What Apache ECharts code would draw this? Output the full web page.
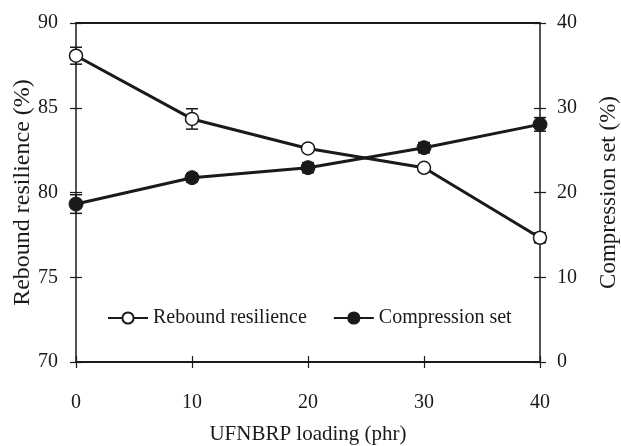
<!DOCTYPE html>
<html><head><meta charset="utf-8">
<script src="https://cdn.jsdelivr.net/npm/echarts@6/dist/echarts.min.js"></script>
<style>html,body{margin:0;padding:0;background:#fff}#c{width:621px;height:446px}</style>
</head><body><div id="c"></div>
<script>
const loading = [0, 10, 20, 30, 40];
const reboundResilience = [88.07, 84.34, 82.6, 81.46, 77.33];
const reboundErr = [0.5, 0.6, 0.2, 0.15, 0.3];
const compressionSet = [18.64, 21.75, 22.93, 25.29, 28.04];
const compressionErr = [1.1, 0.5, 0.6, 0.6, 0.8];
const leftTicks = [70, 75, 80, 85, 90];
const rightTicks = [0, 10, 20, 30, 40];

const FONT = 'Liberation Serif';
const INK = '#1a1a1a';

function pairs(xs, ys) { return xs.map((x, i) => [x, ys[i]]); }
function errData(xs, ys, es) { return xs.map((x, i) => [x, ys[i] - es[i], ys[i] + es[i]]); }
function errRender(params, api) {
  const x = api.value(0);
  const lo = api.coord([x, api.value(1)]);
  const hi = api.coord([x, api.value(2)]);
  const w = 6;
  const st = { stroke: INK, lineWidth: 1.5 };
  return { type: 'group', children: [
    { type: 'line', shape: { x1: lo[0], y1: lo[1], x2: hi[0], y2: hi[1] }, style: st },
    { type: 'line', shape: { x1: lo[0] - w, y1: lo[1], x2: lo[0] + w, y2: lo[1] }, style: st },
    { type: 'line', shape: { x1: hi[0] - w, y1: hi[1], x2: hi[0] + w, y2: hi[1] }, style: st }
  ]};
}

const chart = echarts.init(document.getElementById('c'));
const lbl = { fontFamily: FONT, fontSize: 20, color: INK };
const tick = (inside) => ({ inside: inside, length: 6, lineStyle: { color: INK, width: 1.2 } });
chart.setOption({
  animation: false,
  backgroundColor: '#fff',
  grid: { left: 76, right: 81, top: 23, bottom: 84, containLabel: false, outerBoundsMode: 'none' },
  legend: {
    left: 102, top: 303, itemWidth: 40, itemHeight: 14, itemGap: 26,
    textStyle: { fontFamily: FONT, fontSize: 20, color: INK },
    data: ['Rebound resilience', 'Compression set']
  },
  xAxis: [
    { type: 'value', min: 0, max: 40, interval: 10, position: 'bottom',
      name: 'UFNBRP loading (phr)', nameLocation: 'middle', nameGap: 62, nameMoveOverlap: false,
      nameTextStyle: { fontFamily: FONT, fontSize: 21, color: INK },
      axisLine: { onZero: false, lineStyle: { color: INK, width: 2 } },
      axisTick: tick(false),
      axisLabel: Object.assign({ margin: 31 }, lbl),
      splitLine: { show: false } },
    { type: 'value', min: 0, max: 40, interval: 10, position: 'top',
      axisLine: { onZero: false, lineStyle: { color: INK, width: 2 } },
      axisTick: { show: false }, axisLabel: { show: false }, splitLine: { show: false } },
    { type: 'value', min: 0, max: 40, interval: 10, position: 'bottom',
      axisLine: { show: false, onZero: false },
      axisTick: tick(true),
      axisLabel: { show: false }, splitLine: { show: false } }
  ],
  yAxis: [
    { type: 'value', min: leftTicks[0], max: leftTicks[leftTicks.length - 1], interval: 5, position: 'left',
      name: 'Rebound resilience (%)', nameLocation: 'middle', nameGap: 41, nameMoveOverlap: false,
      nameTextStyle: { fontFamily: FONT, fontSize: 24, color: INK },
      axisLine: { onZero: false, lineStyle: { color: INK, width: 1.5 } },
      axisTick: tick(false),
      axisLabel: Object.assign({ margin: 18 }, lbl),
      splitLine: { show: false } },
    { type: 'value', min: rightTicks[0], max: rightTicks[rightTicks.length - 1], interval: 10, position: 'right',
      name: 'Compression set (%)', nameLocation: 'middle', nameGap: 57, nameMoveOverlap: false,
      nameTextStyle: { fontFamily: FONT, fontSize: 23, color: INK },
      axisLine: { onZero: false, lineStyle: { color: INK, width: 1.5 } },
      axisTick: tick(false),
      axisLabel: Object.assign({ margin: 17 }, lbl),
      splitLine: { show: false } },
    { type: 'value', min: 70, max: 90, interval: 5, position: 'left',
      axisLine: { show: false, onZero: false },
      axisTick: tick(true),
      axisLabel: { show: false }, splitLine: { show: false } },
    { type: 'value', min: 0, max: 40, interval: 10, position: 'right',
      axisLine: { show: false, onZero: false },
      axisTick: tick(true),
      axisLabel: { show: false }, splitLine: { show: false } }
  ],
  series: [
    { type: 'custom', name: 'rrErr', xAxisIndex: 0, yAxisIndex: 0, renderItem: errRender,
      data: errData(loading, reboundResilience, reboundErr), z: 3, silent: true },
    { type: 'custom', name: 'csErr', xAxisIndex: 0, yAxisIndex: 1, renderItem: errRender,
      data: errData(loading, compressionSet, compressionErr), z: 3, silent: true },
    { type: 'line', name: 'Rebound resilience', xAxisIndex: 0, yAxisIndex: 0,
      data: pairs(loading, reboundResilience), symbol: 'circle', symbolSize: 13,
      lineStyle: { color: INK, width: 3 },
      itemStyle: { color: '#fff', borderColor: INK, borderWidth: 1.5 }, z: 4 },
    { type: 'line', name: 'Compression set', xAxisIndex: 0, yAxisIndex: 1,
      data: pairs(loading, compressionSet), symbol: 'circle', symbolSize: 14,
      lineStyle: { color: INK, width: 3 },
      itemStyle: { color: INK, borderColor: INK, borderWidth: 1 }, z: 5 }
  ]
});
</script></body></html>
